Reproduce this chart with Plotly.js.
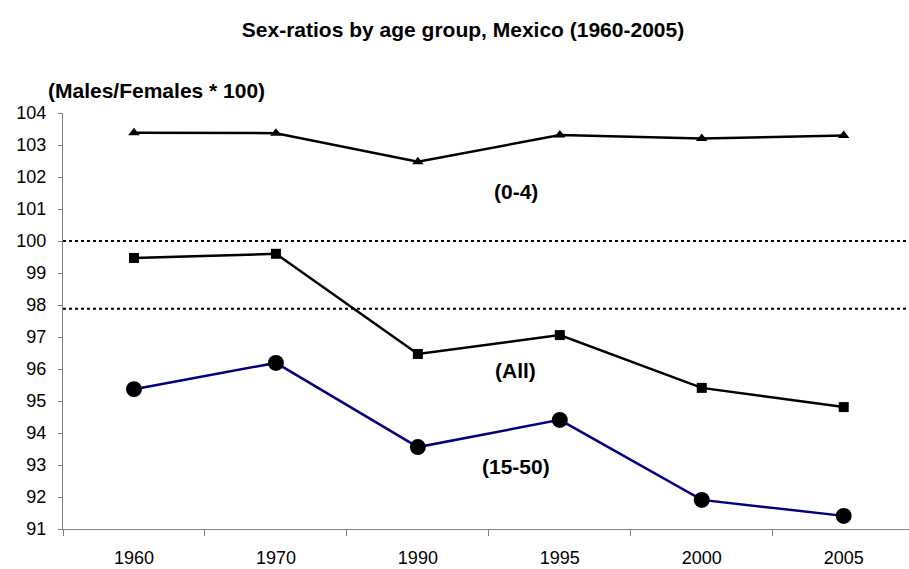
<!DOCTYPE html>
<html>
<head>
<meta charset="utf-8">
<script src="https://cdn.plot.ly/plotly-3.0.1.min.js"></script>
<style>html,body{margin:0;padding:0;background:#fff;}#chart{width:909px;height:569px;}</style>
</head>
<body>
<div id="chart"></div>
<script>
const years = ["1960", "1970", "1990", "1995", "2000", "2005"];
const age0to4 = [103.38, 103.37, 102.48, 103.31, 103.20, 103.30];
const ageAll = [99.47, 99.60, 96.47, 97.06, 95.41, 94.81];
const age15to50 = [95.37, 96.19, 93.56, 94.41, 91.91, 91.41];
const refLines = [100.0, 97.88];
const seriesLabels = ["(0-4)", "(All)", "(15-50)"];
const labelY = [101.55, 95.95, 92.95];

const FONT = "Liberation Sans, Arial, sans-serif";

const traces = [
  {x: years, y: age0to4, type: "scatter", mode: "lines+markers", name: seriesLabels[0],
   line: {color: "#000000", width: 2.5}, marker: {symbol: "triangle-up", size: 10, color: "#000000"}},
  {x: years, y: ageAll, type: "scatter", mode: "lines+markers", name: seriesLabels[1],
   line: {color: "#000000", width: 2.5}, marker: {symbol: "square", size: 10, color: "#000000"}},
  {x: years, y: age15to50, type: "scatter", mode: "lines+markers", name: seriesLabels[2],
   line: {color: "#000080", width: 2.5}, marker: {symbol: "circle", size: 16, color: "#000000"}}
];

const shapes = refLines.map(v => ({
  type: "line", xref: "paper", yref: "y", x0: 0, x1: 1, y0: v, y1: v,
  line: {color: "#000000", width: 2, dash: "dot"}, layer: "below"
}));

const annotations = seriesLabels.map((t, i) => ({
  text: "<b>" + t + "</b>", xref: "x", yref: "y", x: 2.69, y: labelY[i],
  showarrow: false, font: {family: FONT, size: 21, color: "#000"}
}));
annotations.push({
  text: "<b>(Males/Females * 100)</b>", xref: "paper", yref: "paper",
  x: 0, y: 1 + (113 - 91) / 416, xanchor: "left", yanchor: "middle", xshift: -17,
  showarrow: false, font: {family: FONT, size: 21, color: "#000"}
});

const layout = {
  width: 909, height: 569,
  margin: {l: 63, r: 0, t: 113, b: 40},
  paper_bgcolor: "#ffffff", plot_bgcolor: "#ffffff",
  showlegend: false,
  title: {text: "<b>Sex-ratios by age group, Mexico (1960-2005)</b>", x: 463 / 909, xanchor: "center",
          xref: "container", yref: "container", y: 1 - 30 / 569, yanchor: "middle",
          font: {family: FONT, size: 21, color: "#000"}},
  font: {family: FONT, color: "#000"},
  xaxis: {type: "category", range: [-0.5, 5.46], showgrid: false, zeroline: false,
          showline: true, linecolor: "#808080", linewidth: 1,
          ticks: "outside", tickson: "boundaries", ticklen: 6, tickcolor: "#808080",
          ticklabelstandoff: 12, tickfont: {family: FONT, size: 18, color: "#000"}},
  yaxis: {range: [91, 104], dtick: 1, showgrid: false, zeroline: false,
          showline: true, linecolor: "#808080", linewidth: 1,
          ticks: "outside", ticklen: 4, tickcolor: "#808080",
          ticklabelstandoff: 8, tickfont: {family: FONT, size: 18, color: "#000"}},
  shapes: shapes,
  annotations: annotations
};

Plotly.newPlot("chart", traces, layout, {staticPlot: true, displayModeBar: false});
</script>
</body>
</html>
